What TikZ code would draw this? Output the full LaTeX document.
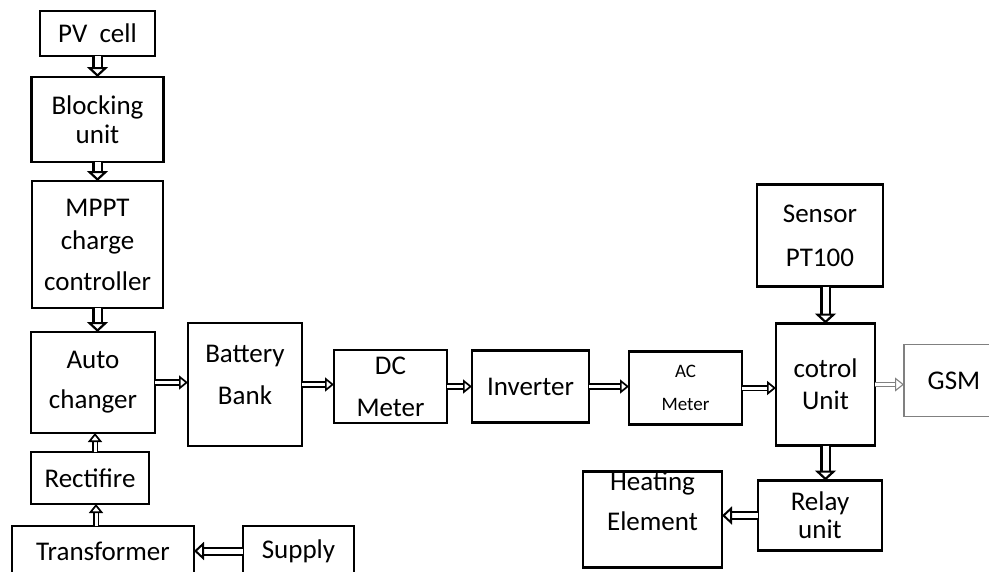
\documentclass[tikz,border=0pt]{standalone}
\usepackage{fontspec}
\setmainfont{Carlito}
\usetikzlibrary{arrows.meta, positioning}

\begin{document}
\begin{tikzpicture}[
        blk/.style={draw, line width=2.4pt, inner sep=0pt, outer sep=0pt, align=center,
            font=\fontsize{27}{33}\selectfont},
        flow/.style={draw, double, double distance=3pt, line width=1.7pt,
            -{Triangle[open, length=9pt, width=14pt]}},
        flowm/.style={draw, double, double distance=5pt, line width=2pt,
            -{Triangle[open, length=10pt, width=18pt]}},
        flowv/.style={draw, double, double distance=6pt, line width=2.2pt,
            -{Triangle[open, length=10pt, width=21pt]}}
    ]
        \useasboundingbox (0,0) rectangle (989pt,-571pt);
        \clip (0,0) rectangle (989pt,-571pt);
        \node[blk, minimum width=115pt, minimum height=45pt] (pv) at (97.5pt,-33.5pt) {PV\ \ cell};
        \node[blk, minimum width=132pt, minimum height=85pt, below=21pt of pv] (block) {Blocking\\[-4pt]unit};
        \node[blk, minimum width=131pt, minimum height=127pt, below=19pt of block] (mppt) {MPPT\\[0pt]charge\\[8pt]controller};
        \node[blk, minimum width=124pt, minimum height=101pt, below=24pt of mppt, xshift=-4.5pt] (auto) {Auto\\[7pt]changer};
        \node[blk, minimum width=118pt, minimum height=52pt, below=19pt of auto, xshift=-3pt] (rect) {Rectifire};
        \node[blk, minimum width=182pt, minimum height=50pt, below=22pt of rect, xshift=13pt] (trans) {Transformer};
        \node[blk, minimum width=111pt, minimum height=50pt, right=49pt of trans] (supply) {Supply};

        \node[blk, minimum width=114pt, minimum height=123pt, text depth=20pt, right=33pt of auto, yshift=-2pt] (batt) {Battery\\[9pt]Bank};
        \node[blk, minimum width=113pt, minimum height=73pt, right=32pt of batt, yshift=-2pt] (dc) {DC\\[9pt]Meter};
        \node[blk, minimum width=117pt, minimum height=72pt, right=25pt of dc] (inv) {Inverter};
        \node[blk, minimum width=113pt, minimum height=73pt, right=40pt of inv, yshift=-1.5pt,
            font=\fontsize{19}{24}\selectfont] (ac) {AC\\[9pt]Meter};
        \node[blk, minimum width=99pt, minimum height=122pt, right=34pt of ac, yshift=3.5pt] (ctrl) {cotrol\\[-1pt]Unit};
        \node[blk, draw=gray, line width=1.3pt, minimum width=100pt, minimum height=72pt, right=29pt of ctrl, yshift=4pt] (gsm) {GSM};
        \node[blk, minimum width=126pt, minimum height=102pt, above=37pt of ctrl, xshift=-5.5pt] (sensor) {Sensor\\[11pt]PT100};
        \node[blk, minimum width=124pt, minimum height=70pt, below=35pt of ctrl, xshift=-5.5pt] (relay) {Relay\\[-5pt]unit};
        \node[blk, minimum width=139pt, minimum height=96pt, text depth=37pt, left=36pt of relay, yshift=-4pt] (heat) {Heating\\[7pt]Element};

        \draw[flowv] (pv) -- (block);
        \draw[flowv] (block) -- (mppt);
        \draw[flowv] (mppt.south) -- (mppt.south |- auto.north);
        \draw[flow] (auto.south -| rect.north) ++(5pt,0) coordinate (r1) (r1 |- rect.north) -- (r1 |- auto.south);
        \draw[flow] ([xshift=6pt]rect.south |- trans.north) -- ([xshift=6pt]rect.south);
        \draw[flowm] (supply.west) -- (supply.west -| trans.east);
        \draw[flow] (auto.east) -- (auto.east -| batt.west);
        \draw[flow] (batt.east) -- (batt.east -| dc.west);
        \draw[flow] (dc.east) -- (dc.east -| inv.west);
        \draw[flow] (inv.east) -- (inv.east -| ac.west);
        \draw[flow] (ac.east) -- (ac.east -| ctrl.west);
        \draw[flow, line width=1.1pt, draw=gray] (ctrl.east) -- (ctrl.east -| gsm.west);
        \draw[flowv] (ctrl.north |- sensor.south) -- (ctrl.north);
        \draw[flowv] (ctrl.south) -- (ctrl.south |- relay.north);
        \draw[flowm] (relay.west) -- (relay.west -| heat.east);
    \end{tikzpicture}
\end{document}
